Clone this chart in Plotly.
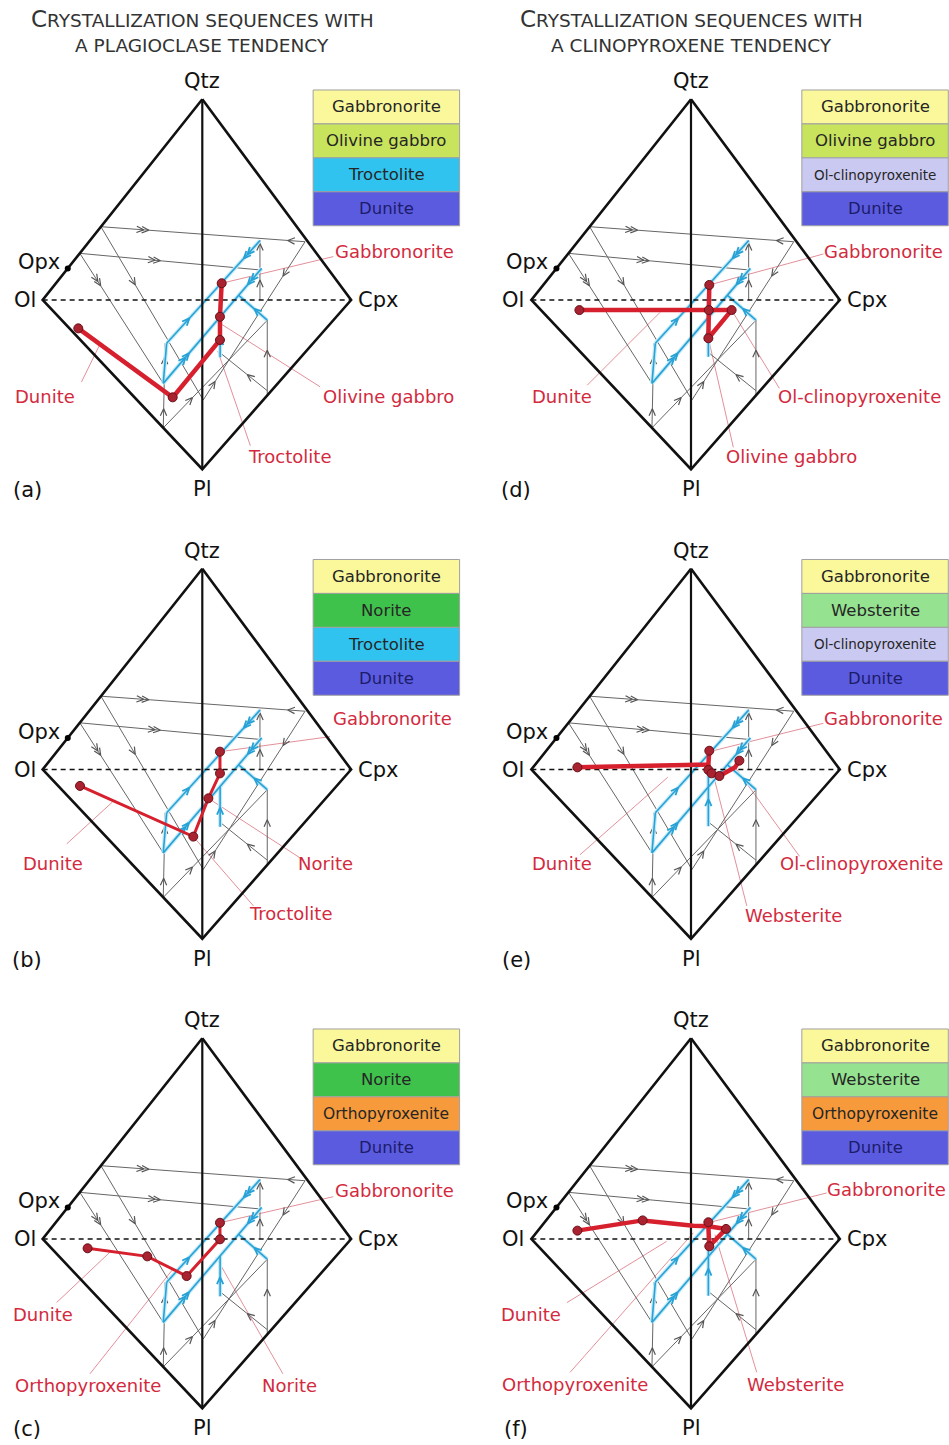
import math
import plotly.graph_objects as go

W, H = 949, 1445
FONT = "DejaVu Sans"

# ---------------- diagram geometry (local diagram units) ----------------
VERTEX_LABELS = ["Qtz", "Pl", "Ol", "Cpx"]
VERTEX_X = [0.0, 0.0, -103.0, 96.0]
VERTEX_Y = [129.5, -109.2, 0.0, 0.0]
OPX_X, OPX_Y = -86.8, 20.4

# grey cotectic / reaction lines (x0, y0, x1, y1)
GREY_LINES = [
    (-65.4, 47.3, 66.3, 37.6),
    (-79.0, 30.1, 37.2, 19.4),
    (37.2, 0.0, 37.2, 38.7),
    (-79.0, 30.1, -25.2, -53.8),
    (-65.4, 47.3, 0.6, -64.5),
    (-25.2, -82.5, -24.0, -27.9),
    (-25.2, -82.5, 42.0, -13.0),
    (0.6, -64.5, 66.3, 37.6),
    (41.9, -61.5, 41.9, -13.0),
    (11.4, -34.0, 41.9, -58.5),
]
# arrows on grey lines: (line index, position along line, direction, count)
GREY_ARROWS = [
    (0, 0.22, 1, 2), (0, 0.93, -1, 1),
    (1, 0.43, 1, 2),
    (2, 0.28, 1, 1), (2, 0.89, 1, 1),
    (3, 0.23, 1, 2),
    (4, 0.32, 1, 1),
    (5, 0.19, 1, 1), (5, 0.80, 1, 1),
    (6, 0.26, 1, 1),
    (7, 0.10, 1, 1), (7, 0.80, -1, 1),
    (8, 0.56, 1, 1),
    (9, 0.63, -1, 1),
]
# blue cotectic lines
BLUE_LINES = [
    (37.2, 38.3, -23.0, -27.9),
    (38.3, 20.4, -25.2, -53.8),
    (-25.2, -53.8, -23.0, -27.9),
    (23.5, 3.0, 41.9, -13.0),
]
BLUE_ARROWS = [
    (0, 0.15, 1, 2), (0, 0.78, -1, 1),
    (1, 0.12, 1, 2), (1, 0.76, -1, 2),
    (3, 0.63, -1, 1),
]
BLUE_CENTRAL_LEFT = (11.5, -37.0, 11.5, -11.0)
BLUE_CENTRAL_RIGHT = (11.2, -36.6, 11.2, 2.2)

# ---------------- crystallization paths (red) ----------------
RED_A = [[(-80.0, -18.3), (-19.1, -62.8), (11.4, -25.8), (11.4, -10.8), (12.5, 10.8)]]
PTS_A = [(-80.0, -18.3), (-19.1, -62.8), (11.4, -25.8), (11.4, -10.8), (12.5, 10.8)]
RED_B = [[(-78.9, -10.6), (-5.8, -43.3), (3.9, -18.6), (11.4, -2.5), (11.4, 11.5)]]
PTS_B = [(-78.9, -10.6), (-5.8, -43.3), (3.9, -18.6), (11.4, -2.5), (11.4, 11.5)]
RED_C = [[(-74.0, -6.0), (-35.5, -11.2), (-10.1, -23.9), (11.4, -0.2), (11.4, 10.5)]]
PTS_C = [(-74.0, -6.0), (-35.5, -11.2), (-10.1, -23.9), (11.4, -0.2), (11.4, 10.5)]
RED_D = [[(-72.0, -6.5), (26.2, -6.5), (11.2, -24.7), (11.8, 9.7)]]
PTS_D = [(-72.0, -6.5), (26.2, -6.5), (11.2, -24.7), (11.5, -6.5), (11.8, 9.7)]
RED_E = [[(-73.3, 1.4), (11.2, 3.2), (11.8, 12.1)],
         [(11.2, 3.2), (11.2, -0.3), (13.3, -2.5), (18.3, -4.2), (28.4, 1.4), (31.2, 5.7)]]
PTS_E = [(-73.3, 1.4), (11.8, 12.1), (11.2, -0.3), (13.3, -2.5), (18.3, -4.2), (31.2, 5.7)]
RED_F = [[(-73.3, 5.4), (-31.2, 12.0), (1.5, 8.5), (11.2, 8.2), (11.8, -4.7), (22.6, 6.5), (11.2, 8.2), (11.2, 10.8)]]
PTS_F = [(-73.3, 5.4), (-31.2, 12.0), (11.2, 10.8), (11.8, -4.7), (22.6, 6.5)]
RED_WIDTH = [4.5, 3.0, 3.0, 4.5, 4.5, 4.5]

# ---------------- labels & leader lines ----------------
LABELS_A = [("Gabbronorite", 124.3, 31.2), ("Dunite", -101.5, -62.4),
            ("Olivine gabbro", 120.0, -62.4), ("Troctolite", 56.0, -101.1)]
LEADERS_A = [(84.5, 28.0, 12.5, 10.8), (-78.0, -53.0, -66.0, -28.5),
             (76.0, -56.0, 11.4, -15.0), (31.0, -94.0, 10.0, -33.0)]
LABELS_B = [("Gabbronorite", 122.7, 33.0), ("Dunite", -96.1, -60.5),
            ("Norite", 79.7, -60.5), ("Troctolite", 56.6, -92.8)]
LEADERS_B = [(82.4, 21.2, 11.4, 11.5), (-87.5, -48.0, -58.0, -21.0),
             (63.0, -57.0, 3.9, -18.6), (33.0, -88.0, -5.8, -43.3)]
LABELS_C = [("Gabbronorite", 124.3, 31.6), ("Dunite", -103.1, -49.0),
            ("Orthopyroxenite", -73.5, -94.2), ("Norite", 56.0, -94.2)]
LEADERS_C = [(84.5, 27.3, 11.4, 10.5), (-94.0, -41.0, -59.6, -8.5),
             (-72.5, -87.0, -19.0, -19.5), (52.0, -87.0, 9.0, -12.0)]
LABELS_D = [("Gabbronorite", 124.5, 31.2), ("Dunite", -83.4, -62.4),
            ("Ol-clinopyroxenite", 109.0, -62.4), ("Olivine gabbro", 65.0, -101.1)]
LEADERS_D = [(85.4, 29.7, 11.8, 9.7), (-67.0, -55.0, -20.0, -8.0),
             (57.0, -57.0, 26.2, -6.5), (27.3, -95.0, 11.2, -24.7)]
LABELS_E = [("Gabbronorite", 124.5, 33.0), ("Dunite", -83.4, -60.5),
            ("Ol-clinopyroxenite", 110.0, -60.5), ("Websterite", 66.0, -93.9)]
LEADERS_E = [(85.4, 29.8, 11.8, 11.5), (-71.6, -55.0, -15.0, -5.0),
             (70.0, -56.0, 28.4, 1.4), (36.0, -88.0, 14.4, -3.5)]
LABELS_F = [("Gabbronorite", 126.3, 31.8), ("Dunite", -103.3, -48.8),
            ("Orthopyroxenite", -74.8, -94.0), ("Websterite", 67.6, -94.0)]
LEADERS_F = [(87.5, 29.7, 12.3, 10.8), (-80.0, -41.0, -15.7, -1.5),
             (-78.0, -86.0, 1.5, 4.0), (42.4, -86.0, 15.5, 2.8)]

# ---------------- legend boxes ----------------
LEG_A = ["Gabbronorite", "Olivine gabbro", "Troctolite", "Dunite"]
LEG_B = ["Gabbronorite", "Norite", "Troctolite", "Dunite"]
LEG_C = ["Gabbronorite", "Norite", "Orthopyroxenite", "Dunite"]
LEG_D = ["Gabbronorite", "Olivine gabbro", "Ol-clinopyroxenite", "Dunite"]
LEG_E = ["Gabbronorite", "Websterite", "Ol-clinopyroxenite", "Dunite"]
LEG_F = ["Gabbronorite", "Websterite", "Orthopyroxenite", "Dunite"]
ROCK_COLORS = {
    "Gabbronorite": "#fbf89c", "Olivine gabbro": "#c8e35c", "Troctolite": "#30c3ef",
    "Dunite": "#5b5be0", "Norite": "#3fc24b", "Ol-clinopyroxenite": "#cac9f1",
    "Websterite": "#95e290", "Orthopyroxenite": "#f69a3b",
}

PANEL_LETTERS = ["(a)", "(b)", "(c)", "(d)", "(e)", "(f)"]
COLUMN_TITLES = [("Crystallization sequences with", "a plagioclase tendency"),
                 ("Crystallization sequences with", "a clinopyroxene tendency")]

PANELS = [
    dict(red=RED_A, pts=PTS_A, labels=LABELS_A, leaders=LEADERS_A, leg=LEG_A, col=0, row=0),
    dict(red=RED_B, pts=PTS_B, labels=LABELS_B, leaders=LEADERS_B, leg=LEG_B, col=0, row=1),
    dict(red=RED_C, pts=PTS_C, labels=LABELS_C, leaders=LEADERS_C, leg=LEG_C, col=0, row=2),
    dict(red=RED_D, pts=PTS_D, labels=LABELS_D, leaders=LEADERS_D, leg=LEG_D, col=1, row=0),
    dict(red=RED_E, pts=PTS_E, labels=LABELS_E, leaders=LEADERS_E, leg=LEG_E, col=1, row=1),
    dict(red=RED_F, pts=PTS_F, labels=LABELS_F, leaders=LEADERS_F, leg=LEG_F, col=1, row=2),
]

# ---------------- layout of panel axes ----------------
SCALE = 1.55                       # px per diagram unit
COL_PX = [(0, 474, 202.3), (474, 949, 691.0)]
ROW_PX = [(0, 515, 300.0), (515, 985, 769.5), (985, 1445, 1239.0)]


def segs_xy(lines):
    xs, ys = [], []
    for x0, y0, x1, y1 in lines:
        xs += [x0, x1, None]
        ys += [y0, y1, None]
    return xs, ys


def chevrons(lines, arrows, arm=5.0, ang=0.42, gap=3.4):
    xs, ys = [], []
    for idx, t, d, n in arrows:
        x0, y0, x1, y1 = lines[idx]
        px, py = x0 + t * (x1 - x0), y0 + t * (y1 - y0)
        L = math.hypot(x1 - x0, y1 - y0)
        ux, uy = d * (x1 - x0) / L, d * (y1 - y0) / L
        for k in range(n):
            tx, ty = px + ux * (2.0 - gap * k), py + uy * (2.0 - gap * k)
            pts = []
            for s in (1, -1):
                c, sn = math.cos(s * ang), math.sin(s * ang)
                bx = (-ux) * c - (-uy) * sn
                by = (-ux) * sn + (-uy) * c
                pts.append((tx + arm * bx, ty + arm * by))
            xs += [pts[0][0], tx, pts[1][0], None]
            ys += [pts[0][1], ty, pts[1][1], None]
    return xs, ys


fig = go.Figure()
layout_axes = {}
annotations = []
shapes = []

for i, P in enumerate(PANELS):
    n = i + 1
    xa = "x" if n == 1 else f"x{n}"
    ya = "y" if n == 1 else f"y{n}"
    c0, c1, cx = COL_PX[P["col"]]
    r0, r1, cy = ROW_PX[P["row"]]
    layout_axes["xaxis" if n == 1 else f"xaxis{n}"] = dict(
        domain=[c0 / W, c1 / W], range=[(c0 - cx) / SCALE, (c1 - cx) / SCALE],
        visible=False, fixedrange=True, anchor=ya)
    layout_axes["yaxis" if n == 1 else f"yaxis{n}"] = dict(
        domain=[1 - r1 / H, 1 - r0 / H], range=[(cy - r1) / SCALE, (cy - r0) / SCALE],
        visible=False, fixedrange=True, anchor=xa)

    # leader lines
    lx, ly = segs_xy(P["leaders"])
    fig.add_trace(go.Scatter(x=lx, y=ly, mode="lines", xaxis=xa, yaxis=ya,
                             line=dict(color="#e3909a", width=1), hoverinfo="skip"))
    # grey network
    gx, gy = segs_xy(GREY_LINES)
    fig.add_trace(go.Scatter(x=gx, y=gy, mode="lines", xaxis=xa, yaxis=ya,
                             line=dict(color="#666666", width=1), hoverinfo="skip"))
    ax_, ay_ = chevrons(GREY_LINES, GREY_ARROWS)
    fig.add_trace(go.Scatter(x=ax_, y=ay_, mode="lines", xaxis=xa, yaxis=ya,
                             line=dict(color="#555555", width=1.2), hoverinfo="skip"))
    # blue network
    central = BLUE_CENTRAL_LEFT if P["col"] == 0 else BLUE_CENTRAL_RIGHT
    blines = BLUE_LINES + [central]
    bx, by = segs_xy(blines)
    fig.add_trace(go.Scatter(x=bx, y=by, mode="lines", xaxis=xa, yaxis=ya,
                             line=dict(color="#c4eaf7", width=4), hoverinfo="skip"))
    fig.add_trace(go.Scatter(x=bx, y=by, mode="lines", xaxis=xa, yaxis=ya,
                             line=dict(color="#27a2d6", width=1.6), hoverinfo="skip"))
    cbx, cby = chevrons(blines, BLUE_ARROWS + [(len(BLUE_LINES), 0.4, 1, 1)])
    fig.add_trace(go.Scatter(x=cbx, y=cby, mode="lines", xaxis=xa, yaxis=ya,
                             line=dict(color="#27a2d6", width=1.8), hoverinfo="skip"))
    # diamond outline
    ox = [VERTEX_X[0], VERTEX_X[3], VERTEX_X[1], VERTEX_X[2], VERTEX_X[0]]
    oy = [VERTEX_Y[0], VERTEX_Y[3], VERTEX_Y[1], VERTEX_Y[2], VERTEX_Y[0]]
    fig.add_trace(go.Scatter(x=ox, y=oy, mode="lines", xaxis=xa, yaxis=ya,
                             line=dict(color="#111111", width=2.6), hoverinfo="skip"))
    fig.add_trace(go.Scatter(x=[VERTEX_X[0], VERTEX_X[1]], y=[VERTEX_Y[0], VERTEX_Y[1]],
                             mode="lines", xaxis=xa, yaxis=ya,
                             line=dict(color="#111111", width=2.2), hoverinfo="skip"))
    fig.add_trace(go.Scatter(x=[VERTEX_X[2], VERTEX_X[3]], y=[VERTEX_Y[2], VERTEX_Y[3]],
                             mode="lines", xaxis=xa, yaxis=ya,
                             line=dict(color="#111111", width=1.5, dash="5px,4px"),
                             hoverinfo="skip"))
    fig.add_trace(go.Scatter(x=[OPX_X], y=[OPX_Y], mode="markers", xaxis=xa, yaxis=ya,
                             marker=dict(color="#000000", size=6), hoverinfo="skip"))
    # red path
    for poly in P["red"]:
        fig.add_trace(go.Scatter(x=[p[0] for p in poly], y=[p[1] for p in poly],
                                 mode="lines", xaxis=xa, yaxis=ya,
                                 line=dict(color="#d7202e", width=RED_WIDTH[i]),
                                 hoverinfo="skip"))
    fig.add_trace(go.Scatter(x=[p[0] for p in P["pts"]], y=[p[1] for p in P["pts"]],
                             mode="markers", xaxis=xa, yaxis=ya,
                             marker=dict(color="#a8222f", size=9,
                                         line=dict(color="#6a1018", width=1)),
                             hoverinfo="skip"))

    # vertex labels
    vl = [("Qtz", VERTEX_X[0], VERTEX_Y[0], "center", "bottom", 0, 4),
          ("Pl", VERTEX_X[1], VERTEX_Y[1], "center", "top", 0, -6),
          ("Ol", VERTEX_X[2], VERTEX_Y[2], "right", "middle", -5, 0),
          ("Cpx", VERTEX_X[3], VERTEX_Y[3], "left", "middle", 5, 0),
          ("Opx", OPX_X, OPX_Y, "right", "middle", -6, 6)]
    for t, x, y, xan, yan, xs_, ys_ in vl:
        annotations.append(dict(text=t, x=x, y=y, xref=xa, yref=ya, showarrow=False,
                                xanchor=xan, yanchor=yan, xshift=xs_, yshift=ys_,
                                font=dict(family=FONT, size=21, color="#111111")))
    annotations.append(dict(text=PANEL_LETTERS[i], x=-112.8, y=-122.6, xref=xa, yref=ya,
                            showarrow=False, xanchor="center", yanchor="middle",
                            font=dict(family=FONT, size=21, color="#111111")))
    # red labels
    for t, x, y in P["labels"]:
        annotations.append(dict(text=t, x=x, y=y, xref=xa, yref=ya, showarrow=False,
                                xanchor="center", yanchor="middle",
                                font=dict(family=FONT, size=18, color="#d32a3e")))
    # legend boxes
    top, hgt, bx0, bx1 = 135.5, 21.9, 71.5, 166.0
    for k, name in enumerate(P["leg"]):
        y1 = top - k * hgt
        y0 = y1 - hgt
        shapes.append(dict(type="rect", xref=xa, yref=ya, x0=bx0, x1=bx1, y0=y0, y1=y1,
                           fillcolor=ROCK_COLORS[name], line=dict(color="#a0a0a0", width=1),
                           layer="below"))
        fs = 13.5 if name == "Ol-clinopyroxenite" else (15.5 if name == "Orthopyroxenite" else 16.5)
        tc = "#1c1c6a" if name == "Dunite" else "#262626"
        annotations.append(dict(text=name, x=(bx0 + bx1) / 2, y=(y0 + y1) / 2, xref=xa, yref=ya,
                                showarrow=False, xanchor="center", yanchor="middle",
                                font=dict(family=FONT, size=fs, color=tc)))

# column titles (small caps)
for j, (l1, l2) in enumerate(COLUMN_TITLES):
    cx = COL_PX[j][2] / W
    t1 = f'<span style="font-size:23px">{l1[0].upper()}</span>{l1[1:].upper()}'
    annotations.append(dict(text=t1, x=cx, y=1 - 19 / H, xref="paper", yref="paper",
                            showarrow=False, xanchor="center", yanchor="middle",
                            font=dict(family=FONT, size=18.5, color="#333333")))
    annotations.append(dict(text=l2.upper(), x=cx, y=1 - 45 / H, xref="paper", yref="paper",
                            showarrow=False, xanchor="center", yanchor="middle",
                            font=dict(family=FONT, size=18.5, color="#333333")))

fig.update_layout(
    width=W, height=H, margin=dict(l=0, r=0, t=0, b=0),
    paper_bgcolor="white", plot_bgcolor="white", showlegend=False,
    annotations=annotations, shapes=shapes, **layout_axes)

fig.write_html("out.html", config={"displayModeBar": False},
               post_script="document.body.style.margin='0px';document.body.style.padding='0px';")
